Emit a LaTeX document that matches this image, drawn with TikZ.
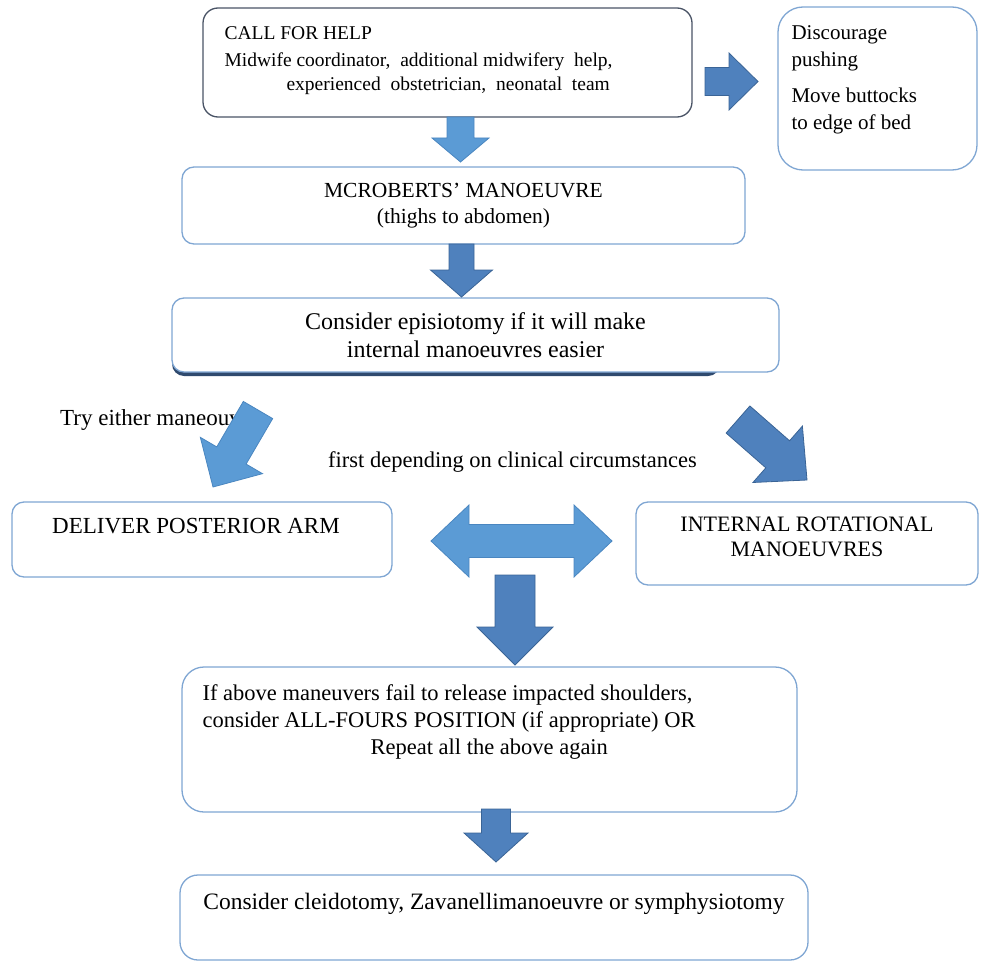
\documentclass[tikz,border=0pt]{standalone}
\usepackage{fontspec}
\setmainfont{Liberation Serif}
\usetikzlibrary{positioning,calc}
\definecolor{boxline}{HTML}{7FA6D3}
\definecolor{helpline}{HTML}{4A5466}
\definecolor{lightfill}{HTML}{5B9BD5}
\definecolor{lightline}{HTML}{4A86C0}
\definecolor{darkfill}{HTML}{4F81BD}
\definecolor{darkline}{HTML}{3A6496}
\definecolor{shadowc}{HTML}{2F4A6E}
\newcommand{\txtfont}{\fontsize{19.5}{24}\selectfont}
\tikzstyle{box} = [draw=boxline, line width=1.3pt, fill=white, rounded corners=12pt, inner sep=0pt, align=center, font=\txtfont]
\tikzstyle{txt} = [inner sep=0pt, align=left, font=\txtfont]
\tikzstyle{light} = [fill=lightfill, draw=lightline, line width=0.8pt]
\tikzstyle{dark} = [fill=darkfill, draw=darkline, line width=0.8pt]
% block arrow: style, tail, tip, half shaft, half head, head length
\newcommand{\blockarrow}[6]{%
  \coordinate (hb) at ($(#3)!#6!(#2)$);
  \draw[#1] ($(#2)!#4!90:(#3)$) -- ($(hb)!#4!90:(#3)$) -- ($(hb)!#5!90:(#3)$) -- (#3)
    -- ($(hb)!#5!-90:(#3)$) -- ($(hb)!#4!-90:(#3)$) -- ($(#2)!#4!-90:(#3)$) -- cycle;
}
% double block arrow: style, tip, tip, half shaft, half head, head length
\newcommand{\dblarrow}[6]{%
  \coordinate (ha) at ($(#2)!#6!(#3)$);
  \coordinate (hb) at ($(#3)!#6!(#2)$);
  \draw[#1] (#2) -- ($(ha)!#5!90:(#3)$) -- ($(ha)!#4!90:(#3)$) -- ($(hb)!#4!-90:(#2)$)
    -- ($(hb)!#5!-90:(#2)$) -- (#3) -- ($(hb)!#5!90:(#2)$) -- ($(hb)!#4!90:(#2)$)
    -- ($(ha)!#4!-90:(#3)$) -- ($(ha)!#5!-90:(#3)$) -- cycle;
}
\begin{document}
\begin{tikzpicture}[x=1pt, y=-1pt]
	\useasboundingbox (0,0) rectangle (982,963);

	% boxes
	\node [box, draw=helpline, rounded corners=15pt, minimum width=489pt, minimum height=109pt] (help) at (447.5,62.5) {};
	\node [txt, below right=19pt and 22pt of help.north west] (help-txt)
		{CALL FOR HELP\\[3pt]Midwife coordinator,\ \ additional midwifery\ \ help,\\
		\hspace*{62pt}experienced\ \ obstetrician,\ \ neonatal\ \ team};

	\node [box, rounded corners=25pt, minimum width=199pt, minimum height=163pt] (push) at (877.5,88.5) {};
	\node [txt, font=\fontsize{21}{27}\selectfont, below right=19pt and 14pt of push.north west] (push-txt)
		{Discourage\\pushing\\[9pt]Move buttocks\\to edge of bed};

	\node [box, font=\fontsize{21.5}{26}\selectfont, minimum width=563pt, minimum height=77pt] (mcr) at (463.5,205.5)
		{MCROBERTS’ MANOEUVRE\\(thighs to abdomen)};

	\fill [shadowc, rounded corners=12pt] (172,302) rectangle (720,376);
	\node [box, font=\fontsize{24}{28}\selectfont, minimum width=607pt, minimum height=74pt] (epi) at (475.5,335)
		{Consider episiotomy if it will make\\internal manoeuvres easier};

	\node [box, minimum width=380pt, minimum height=75pt] (arm) at (202,539.5) {};
	\node [txt, font=\fontsize{23}{27}\selectfont, below=17pt of arm.north, xshift=-6pt] (arm-txt) {DELIVER POSTERIOR ARM};

	\node [box, minimum width=342pt, minimum height=83pt] (rot) at (807,543.5) {};
	\node [txt, align=center, font=\fontsize{22}{25}\selectfont, below=15pt of rot.north] (rot-txt)
		{INTERNAL ROTATIONAL\\MANOEUVRES};

	\node [box, rounded corners=22pt, minimum width=615pt, minimum height=145pt] (fail) at (489.5,739.5) {};
	\node [txt, font=\fontsize{22.5}{27}\selectfont, below right=18pt and 21pt of fail.north west] (fail-txt)
		{If above maneuvers fail to release impacted shoulders,\\
		consider ALL-FOURS POSITION (if appropriate) OR\\
		\hspace*{168pt}Repeat all the above again};

	\node [box, rounded corners=18pt, minimum width=628pt, minimum height=85pt] (last) at (494,917.5) {};
	\node [txt, font=\fontsize{23.5}{27}\selectfont, below=19pt of last.north] (last-txt)
		{Consider cleidotomy, Zavanellimanoeuvre or symphysiotomy};

	% free texts
	\node [txt, font=\fontsize{23}{27}\selectfont, anchor=west] (try) at (60,420) {Try either maneouvre};
	\node [txt, font=\fontsize{22.5}{27}\selectfont, anchor=west] (first) at (328,462) {first depending on clinical circumstances};

	% block arrows
	\coordinate (a1s) at (460.5,117);  \coordinate (a1e) at (460.5,162);
	\coordinate (a2s) at (705,81.5);   \coordinate (a2e) at (758,81.5);
	\coordinate (a3s) at (461.5,244);  \coordinate (a3e) at (461.5,297);
	\coordinate (a4s) at (258,410);    \coordinate (a4e) at (213,487);
	\coordinate (a5s) at (738,419.5);  \coordinate (a5e) at (807,480);
	\coordinate (a6l) at (431,541);    \coordinate (a6r) at (612,541);
	\coordinate (a7s) at (515,575);    \coordinate (a7e) at (515,665);
	\coordinate (a8s) at (496,809);    \coordinate (a8e) at (496,862);

	\blockarrow{light}{a1s}{a1e}{13.5pt}{28.5pt}{24pt}
	\blockarrow{dark}{a2s}{a2e}{14pt}{28.5pt}{29pt}
	\blockarrow{dark}{a3s}{a3e}{12.5pt}{31pt}{27pt}
	\blockarrow{light}{a4s}{a4e}{17pt}{36pt}{36.5pt}
	\blockarrow{dark}{a5s}{a5e}{18pt}{37.5pt}{39pt}
	\dblarrow{light}{a6l}{a6r}{16.5pt}{36pt}{38pt}
	\blockarrow{dark}{a7s}{a7e}{20pt}{38pt}{38pt}
	\blockarrow{dark}{a8s}{a8e}{14.5pt}{32pt}{29pt}
\end{tikzpicture}
\end{document}
